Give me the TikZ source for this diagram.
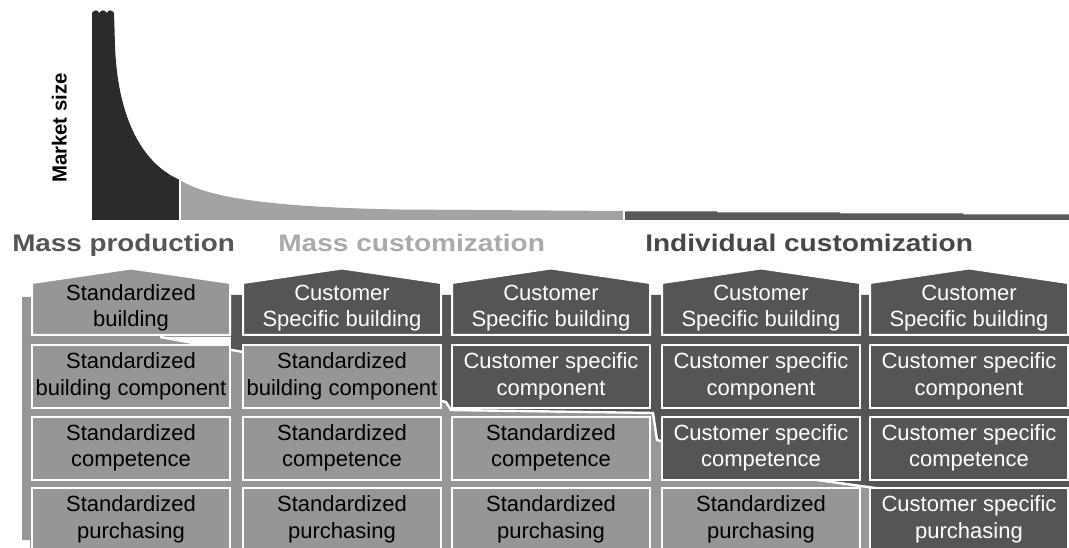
\documentclass[tikz,border=0pt]{standalone}
\usepackage{fontspec}
\setmainfont{Liberation Sans}
\usepackage{graphicx}
\definecolor{cLight}{HTML}{969696}
\definecolor{cDark}{HTML}{555555}
\definecolor{cCurveDark}{HTML}{2B2B2B}
\definecolor{cCurveLight}{HTML}{A3A3A3}
\definecolor{cBand}{HTML}{595959}
\definecolor{cHdrA}{HTML}{555555}
\definecolor{cHdrB}{HTML}{AAAAAA}
\definecolor{cHdrC}{HTML}{474747}
\begin{document}
\begin{tikzpicture}[x=0.75pt,y=-0.75pt,
  boxbase/.style={draw=white, line width=1.5pt, minimum width=148.5pt, minimum height=47.25pt, inner sep=0pt, align=center, font=\fontsize{16.5}{19.9}\selectfont},
  lightbox/.style={boxbase, fill=cLight, text=black},
  darkbox/.style={boxbase, fill=cDark, text=white},
  roofbase/.style={draw=white, line width=1.5pt},
  rooftext/.style={align=center, inner sep=0pt, font=\fontsize{16.5}{19.4}\selectfont},
  hdr/.style={anchor=base west, inner sep=0pt, font=\fontsize{18}{20}\selectfont\bfseries}
]
\clip (0,0) rectangle (1069,548);
\fill[white] (0,0) rectangle (1069,548);

% ---------- chart ----------
\fill[cCurveDark] (92,220) -- (92,13)
  .. controls (94,9.5) and (97.5,9.5) .. (99.3,13)
  .. controls (101,9.5) and (105,9.5) .. (106.7,13)
  .. controls (108.5,9.5) and (112,9.5) .. (114,13)
  -- (115,45) .. controls (117,110) and (138,162) .. (180,180) -- (180,220) -- cycle;
\fill[cCurveLight] (180,220) -- (180,180) .. controls (205,196) and (260,207) .. (400,209.5)
  -- (624,211) -- (624,220) -- cycle;
\fill[cBand] (624,211.5) -- (717,211.5) -- (717,212.3) -- (840,212.3) -- (840,213.3)
  -- (963,213.3) -- (963,214.3) -- (1069,214.3) -- (1069,220) -- (624,220) -- cycle;
\draw[white, line width=0.8pt] (180,179) -- (180,220);
\draw[white, line width=0.8pt] (624,210) -- (624,220);
\node[rotate=90, anchor=base, inner sep=0pt, font=\fontsize{15.3}{17}\selectfont\bfseries, text=black] (ms) at (66.5,128) {Market size};

% ---------- headers ----------
\node[hdr, text=cHdrA] (h1) at (12,252) {\scalebox{1.16}[1]{Mass production}};
\node[hdr, text=cHdrB] (h2) at (278,252) {\scalebox{1.17}[1]{Mass customization}};
\node[hdr, text=cHdrC] (h3) at (645,252) {\scalebox{1.17}[1]{Individual customization}};

% ---------- background slabs ----------
\fill[cDark] (231,295) -- (1069,295) -- (1069,489) -- (890,490) -- (817,480) -- (657,440)
  -- (653,413) -- (451,410) -- (446,402) -- (243,352) -- (231,351) -- cycle;
\fill[cLight] (22,297) -- (231,297) -- (231,337) -- (160,337) -- (243,352) -- (446,402)
  -- (451,410) -- (653,413) -- (657,440) -- (817,480) -- (890,490) -- (890,548)
  -- (30,548) -- (30,540) -- (22,540) -- cycle;
\draw[white, line width=1.8pt] (160,337) -- (243,352) -- (446,402) -- (451,410) -- (653,413)
  -- (657,440) -- (817,480) -- (890,490);

% ---------- row 1 (roof boxes) ----------
\fill[roofbase, fill=cLight] (32,335) -- (32,283) -- (131,268.5) -- (230,283) -- (230,335) -- cycle;
\fill[roofbase, fill=cDark] (243,335) -- (243,283) -- (342,268.5) -- (441,283) -- (441,335) -- cycle;
\fill[roofbase, fill=cDark] (452,335) -- (452,283) -- (551,268.5) -- (650,283) -- (650,335) -- cycle;
\fill[roofbase, fill=cDark] (662,335) -- (662,283) -- (761,268.5) -- (860,283) -- (860,335) -- cycle;
\fill[roofbase, fill=cDark] (870,335) -- (870,283) -- (969,268.5) -- (1068,283) -- (1068,335) -- cycle;
\draw[white, line width=1.5pt] (32,283) -- (32,335) -- (230,335) -- (230,283);
\draw[white, line width=1.5pt] (243,283) -- (243,335) -- (441,335) -- (441,283);
\draw[white, line width=1.5pt] (452,283) -- (452,335) -- (650,335) -- (650,283);
\draw[white, line width=1.5pt] (662,283) -- (662,335) -- (860,335) -- (860,283);
\draw[white, line width=1.5pt] (870,283) -- (870,335) -- (1068,335) -- (1068,283);
\node[rooftext, text=black] (r11) at (131,308) {Standardized\\building};
\node[rooftext, text=white] (r12) at (342,308) {Customer\\Specific building};
\node[rooftext, text=white] (r13) at (551,308) {Customer\\Specific building};
\node[rooftext, text=white] (r14) at (761,308) {Customer\\Specific building};
\node[rooftext, text=white] (r15) at (969,308) {Customer\\Specific building};

% ---------- row 2 ----------
\node[lightbox] (b21) at (131,376.5) {Standardized\\building component};
\node[lightbox] (b22) at (342,376.5) {Standardized\\building component};
\node[darkbox]  (b23) at (551,376.5) {Customer specific\\component};
\node[darkbox]  (b24) at (761,376.5) {Customer specific\\component};
\node[darkbox]  (b25) at (969,376.5) {Customer specific\\component};

% ---------- row 3 ----------
\node[lightbox] (b31) at (131,448) {Standardized\\competence};
\node[lightbox] (b32) at (342,448) {Standardized\\competence};
\node[lightbox] (b33) at (551,448) {Standardized\\competence};
\node[darkbox]  (b34) at (761,448) {Customer specific\\competence};
\node[darkbox]  (b35) at (969,448) {Customer specific\\competence};

% ---------- row 4 ----------
\node[lightbox] (b41) at (131,519.5) {Standardized\\purchasing};
\node[lightbox] (b42) at (342,519.5) {Standardized\\purchasing};
\node[lightbox] (b43) at (551,519.5) {Standardized\\purchasing};
\node[lightbox] (b44) at (761,519.5) {Standardized\\purchasing};
\node[darkbox]  (b45) at (969,519.5) {Customer specific\\purchasing};
\end{tikzpicture}
\end{document}
